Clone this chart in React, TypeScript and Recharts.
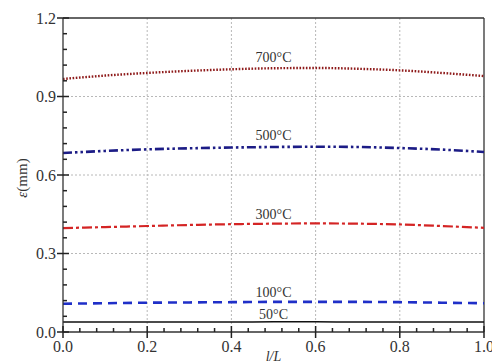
import React from 'react';
import { LineChart, Line, XAxis, YAxis, ReferenceLine, ReferenceDot, Label } from 'recharts';

const xValues = [0, 0.1, 0.2, 0.3, 0.4, 0.5, 0.6, 0.7, 0.8, 0.9, 1.0];
const s700 = [0.967, 0.980, 0.990, 0.998, 1.004, 1.008, 1.009, 1.006, 1.000, 0.990, 0.978];
const s500 = [0.684, 0.692, 0.698, 0.702, 0.705, 0.707, 0.708, 0.707, 0.703, 0.697, 0.688];
const s300 = [0.397, 0.401, 0.405, 0.409, 0.412, 0.414, 0.415, 0.414, 0.411, 0.405, 0.398];
const s100 = [0.108, 0.110, 0.112, 0.113, 0.114, 0.115, 0.115, 0.115, 0.114, 0.112, 0.110];
const s50 = [0.038, 0.038, 0.038, 0.038, 0.038, 0.039, 0.039, 0.038, 0.038, 0.038, 0.038];

const seriesKeys = ['t50', 't100', 't300', 't500', 't700'];
const seriesLabels = ['50°C', '100°C', '300°C', '500°C', '700°C'];
const seriesArrays = [s50, s100, s300, s500, s700];
const labelX = 0.5;

const xMajorTicks = [0, 0.2, 0.4, 0.6, 0.8, 1.0];
const xAllTicks = [0, 0.04, 0.08, 0.12, 0.16, 0.2, 0.24, 0.28, 0.32, 0.36, 0.4, 0.44, 0.48, 0.52, 0.56, 0.6, 0.64, 0.68, 0.72, 0.76, 0.8, 0.84, 0.88, 0.92, 0.96, 1.0];
const yMajorTicks = [0, 0.3, 0.6, 0.9, 1.2];
const yAllTicks = [0, 0.06, 0.12, 0.18, 0.24, 0.3, 0.36, 0.42, 0.48, 0.54, 0.6, 0.66, 0.72, 0.78, 0.84, 0.9, 0.96, 1.02, 1.08, 1.14, 1.2];
const xGrid = [0.2, 0.4, 0.6, 0.8];
const yGrid = [0.3, 0.6, 0.9];

const data = xValues.map((x, i) => {
  const row: any = { x };
  seriesKeys.forEach((k, j) => { row[k] = seriesArrays[j][i]; });
  return row;
});

const styles = [
  { stroke: '#111111', width: 1.6, dash: undefined },
  { stroke: '#1f2fc8', width: 2.6, dash: '9 6' },
  { stroke: '#d42424', width: 2.2, dash: '10 3 3 3' },
  { stroke: '#1c1c86', width: 2.6, dash: '9 3 2.5 3 2.5 3' },
  { stroke: '#8e1a1a', width: 2.4, dash: '1.6 1.6' },
];

const FONT = 'Liberation Serif, serif';
const AX = '#333333';

const isMajor = (arr: number[], v: number) => arr.some((t) => Math.abs(t - v) < 1e-6);

const XTick = (props: any) => {
  const { x, y, payload } = props;
  const v = payload.value;
  const major = isMajor(xMajorTicks, v);
  return (
    <g>
      <line x1={x} x2={x} y1={y - (major ? 6 : 4)} y2={y + (major ? 6 : 0)} stroke="#222" strokeWidth={1.5} />
      {major && (
        <text x={x} y={y + 20} textAnchor="middle" fontSize={16} fontFamily={FONT} fill="#333">
          {v.toFixed(1)}
        </text>
      )}
    </g>
  );
};

const YTick = (props: any) => {
  const { x, y, payload } = props;
  const v = payload.value;
  const major = isMajor(yMajorTicks, v);
  return (
    <g>
      <line x1={x - (major ? 6 : 0)} x2={x + (major ? 6 : 4)} y1={y} y2={y} stroke="#222" strokeWidth={1.5} />
      {major && (
        <text x={x - 7} y={y + 5.5} textAnchor="end" fontSize={16} fontFamily={FONT} fill="#333">
          {v.toFixed(1)}
        </text>
      )}
    </g>
  );
};

const YLabel = (props: any) => {
  const vb = props.viewBox;
  const cx = vb.x + 22;
  const cy = vb.y + vb.height / 2 + 3;
  return (
    <text x={cx} y={cy} transform={`rotate(-90 ${cx} ${cy})`} textAnchor="middle" fontSize={15} fontFamily={FONT} fill="#333" dominantBaseline="central">
      <tspan fontStyle="italic">ε</tspan>
      <tspan>(mm)</tspan>
    </text>
  );
};

const XLabel = (props: any) => {
  const vb = props.viewBox;
  return (
    <text x={vb.x + vb.width / 2} y={vb.y + 29} textAnchor="middle" fontSize={14} fontStyle="italic" fontFamily={FONT} fill="#333">
      l/L
    </text>
  );
};

const labelOffsets = [3, 5, 5, 7, 6];

export default function App() {
  const idx = xValues.indexOf(labelX);
  return (
    <div style={{ position: 'absolute', left: 0, top: 0, background: '#fff' }}>
      <LineChart width={492} height={362} data={data} margin={{ top: 18, right: 8, bottom: 0, left: 0 }}>
        {xGrid.map((g) => (
          <ReferenceLine key={'xg' + g} x={g} stroke="#b8b8b8" strokeDasharray="2 2" strokeWidth={1} />
        ))}
        {yGrid.map((g) => (
          <ReferenceLine key={'yg' + g} y={g} stroke="#b8b8b8" strokeDasharray="2 2" strokeWidth={1} />
        ))}
        <ReferenceLine y={1.2} stroke={AX} strokeWidth={1.3} />
        <ReferenceLine x={1} stroke={AX} strokeWidth={1.3} />
        {seriesKeys.map((k, i) => (
          <Line
            key={k}
            dataKey={k}
            type="monotone"
            stroke={styles[i].stroke}
            strokeWidth={styles[i].width}
            strokeDasharray={styles[i].dash}
            dot={false}
            activeDot={false}
            isAnimationActive={false}
          />
        ))}
        {seriesKeys.map((k, i) => (
          <ReferenceDot
            key={'l' + k}
            x={labelX}
            y={seriesArrays[i][idx]}
            r={0}
            fill="none"
            stroke="none"
            label={{ value: seriesLabels[i], position: 'top', offset: labelOffsets[i], fontSize: 14, fontFamily: FONT, fill: '#333' }}
          />
        ))}
        <XAxis
          dataKey="x"
          type="number"
          domain={[0, 1]}
          ticks={xAllTicks}
          interval={0}
          tickSize={0}
          tickMargin={0}
          tickLine={false}
          tick={<XTick />}
          height={30}
          axisLine={{ stroke: AX, strokeWidth: 1.3 }}
        >
          <Label content={<XLabel />} />
        </XAxis>
        <YAxis
          type="number"
          domain={[0, 1.2]}
          ticks={yAllTicks}
          interval={0}
          tickSize={0}
          tickMargin={0}
          tickLine={false}
          tick={<YTick />}
          width={63}
          axisLine={{ stroke: AX, strokeWidth: 1.3 }}
        >
          <Label content={<YLabel />} />
        </YAxis>
      </LineChart>
    </div>
  );
}
